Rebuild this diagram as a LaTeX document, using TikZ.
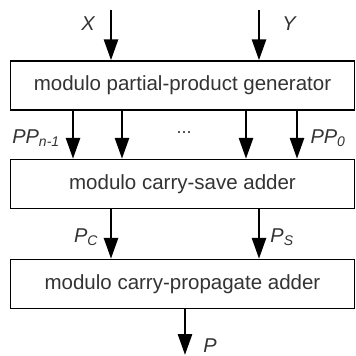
\documentclass[tikz,border=0pt]{standalone}
\usepackage{fontspec}
\setmainfont{Liberation Sans}
\usetikzlibrary{arrows.meta}
\begin{document}
\begin{tikzpicture}[x=1pt,y=-1pt,
  blk/.style={draw, line width=1.4pt, minimum width=344pt, minimum height=49pt, inner sep=0pt, font=\fontsize{20.5}{24}\selectfont, text=black!80},
  arr/.style={line width=2.8pt, -{Triangle[length=21pt,width=14pt]}},
  lbl/.style={inner sep=0pt, font=\fontsize{20}{24}\selectfont\itshape, text=black!80}]
\useasboundingbox (0,0) rectangle (356,356);
\node[blk] (g) at (182.5,85.5) {modulo partial-product generator};
\node[blk] (c) at (182.5,184) {modulo carry-save adder};
\node[blk] (a) at (182.5,284) {modulo carry-propagate adder};
\coordinate (xin) at (111,10);
\coordinate (yin) at (259,10);
\coordinate (q1) at (73,0);
\coordinate (q2) at (122,0);
\coordinate (q3) at (246,0);
\coordinate (q4) at (297,0);
\coordinate (pout) at (185,355);
\draw[arr] (xin) -- (g.north -| xin);
\draw[arr] (yin) -- (g.north -| yin);
\foreach \q in {q1,q2,q3,q4} \draw[arr] (g.south -| \q) -- (c.north -| \q);
\draw[arr] (c.south -| xin) -- (a.north -| xin);
\draw[arr] (c.south -| yin) -- (a.north -| yin);
\draw[arr] (a.south -| pout) -- (pout);
\node[lbl] (lx) at (88,24) {X};
\node[lbl] (ly) at (289,24) {Y};
\node[lbl] (lpp1) at (36,138) {PP\textsubscript{n-1}};
\node[lbl] (lpp0) at (328,138) {PP\textsubscript{0}};
\node[lbl,font=\fontsize{18}{22}\selectfont] (dots) at (184,133) {...};
\node[lbl] (lpc) at (86,237) {P\textsubscript{C}};
\node[lbl] (lps) at (282,237) {P\textsubscript{S}};
\node[lbl] (lp) at (210,346) {P};
\end{tikzpicture}
\end{document}
